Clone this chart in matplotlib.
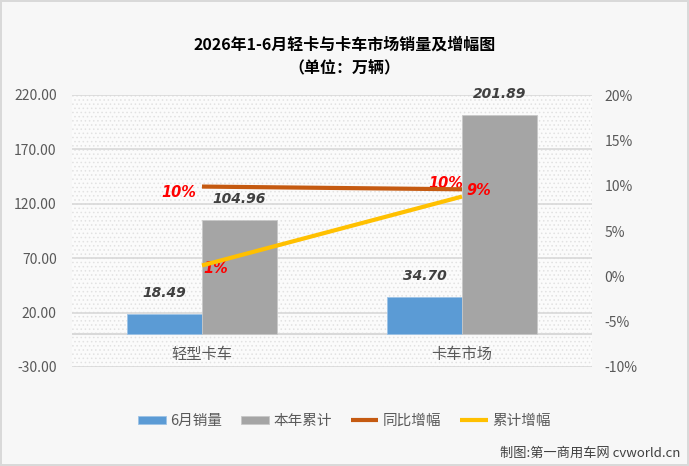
import matplotlib
matplotlib.use("Agg")
import matplotlib.pyplot as plt
import numpy as np
from matplotlib.patches import Rectangle

plt.rcParams['font.family'] = ['Noto Sans CJK SC', 'DejaVu Sans']
plt.rcParams['hatch.linewidth'] = 0.6

# data
categories = ["轻型卡车", "卡车市场"]
june_sales = [18.49, 34.70]
ytd_sales = [104.96, 201.89]
yoy_growth = [9.9, 9.6]        # 同比增幅 (%)
ytd_growth = [1.2, 8.8]        # 累计增幅 (%)
yoy_labels = ["10%", "10%"]
ytd_labels = ["1%", "9%"]

left_ticks = [-30, 20, 70, 120, 170, 220]
right_ticks = [-10, -5, 0, 5, 10, 15, 20]

c_blue = "#5B9BD5"
c_gray = "#A5A5A5"
c_orange = "#C55A11"
c_yellow = "#FFC000"
c_text = "#595959"

W, H = 689, 466
fig = plt.figure(figsize=(W / 100, H / 100), dpi=100)
fig.patch.set_facecolor("#F7F7F7")
fig.patch.set_edgecolor("#D9D9D9")
fig.patch.set_linewidth(1.5)

ax = fig.add_axes([72 / W, 1 - 367 / H, 520 / W, 272 / H])
ax.set_facecolor("#FBFBFB")
ax.add_patch(Rectangle((0, 0), 1, 1, transform=ax.transAxes, facecolor="none",
                       edgecolor="#E2E2E2", hatch="....", lw=0, zorder=0))

x = np.arange(len(categories))
bw = 0.287
b1 = ax.bar(x - bw / 2, june_sales, bw, color=c_blue, edgecolor="#9DC3E6", lw=0.6, zorder=3)
b2 = ax.bar(x + bw / 2, ytd_sales, bw, color=c_gray, edgecolor="#C8C8C8", lw=0.6, zorder=3)

for bars in (b1, b2):
    for r in bars:
        ax.annotate(f"{r.get_height():.2f}", (r.get_x() + r.get_width() / 2, r.get_height()),
                    xytext=(0, 10), textcoords="offset points", ha="center", va="bottom",
                    fontsize=10, fontweight="bold", style="italic", color="#404040",
                    family="DejaVu Sans", zorder=5)

ax.set_xlim(-0.5, 1.5)
ax.set_ylim(-30, 220)
ax.set_yticks(left_ticks)
ax.set_yticklabels([f"{v:.2f}" for v in left_ticks])
ax.grid(axis="y", color="#D9D9D9", lw=1.2, zorder=1)
ax.axhline(0, color="#D9D9D9", lw=1.5, zorder=2)
ax.set_xticks([])
for s in ax.spines.values():
    s.set_visible(False)
ax.tick_params(axis="y", length=0, pad=11, labelsize=10, labelcolor=c_text)

for xi, name in zip(x, categories):
    ax.text(xi, 13 / 272, name, transform=ax.get_xaxis_transform(), ha="center", va="center",
            fontsize=11, color=c_text)

ax2 = ax.twinx()
ax2.set_ylim(-10, 20)
ax2.set_yticks(right_ticks)
ax2.set_yticklabels([f"{v}%" for v in right_ticks])
ax2.tick_params(axis="y", length=0, pad=9, labelsize=10, labelcolor=c_text)
for s in ax2.spines.values():
    s.set_visible(False)

l1, = ax2.plot(x, yoy_growth, color=c_orange, lw=3, zorder=4, solid_capstyle="butt")
l2, = ax2.plot(x, ytd_growth, color=c_yellow, lw=3, zorder=4, solid_capstyle="butt")

lab_style = dict(textcoords="offset points", ha="center", va="center", fontsize=10.5,
                 fontweight="bold", style="italic", color="#FF0000", family="DejaVu Sans")
ax2.annotate(yoy_labels[0], (x[0], yoy_growth[0]), xytext=(-17, -4), **lab_style)
ax2.annotate(yoy_labels[1], (x[1], yoy_growth[1]), xytext=(-12, 4), **lab_style)
ax2.annotate(ytd_labels[0], (x[0], ytd_growth[0]), xytext=(10, -2), **lab_style)
ax2.annotate(ytd_labels[1], (x[1], ytd_growth[1]), xytext=(12, 4), **lab_style)

fig.text(0.5, 1 - 45 / H, "2026年1-6月轻卡与卡车市场销量及增幅图", ha="center", va="center",
         fontsize=11.5, fontweight="bold", color="#000000")
fig.text(0.5, 1 - 68 / H, "（单位：万辆）", ha="center", va="center",
         fontsize=11.5, fontweight="bold", color="#000000")

leg = fig.legend([b1, b2, l1, l2], ["6月销量", "本年累计", "同比增幅", "累计增幅"],
                 loc="center", bbox_to_anchor=(0.5, 1 - 421 / H), ncol=4, frameon=False,
                 fontsize=10.5, labelcolor=c_text, handlelength=1.9, handleheight=0.5,
                 handletextpad=0.3, columnspacing=1.3)

fig.text(680 / W, 1 - 453 / H, "制图:第一商用车网 cvworld.cn", ha="right", va="center",
         fontsize=9.5, color="#404040")

fig.savefig("out.png", dpi=100, facecolor=fig.get_facecolor(), edgecolor=fig.get_edgecolor())
